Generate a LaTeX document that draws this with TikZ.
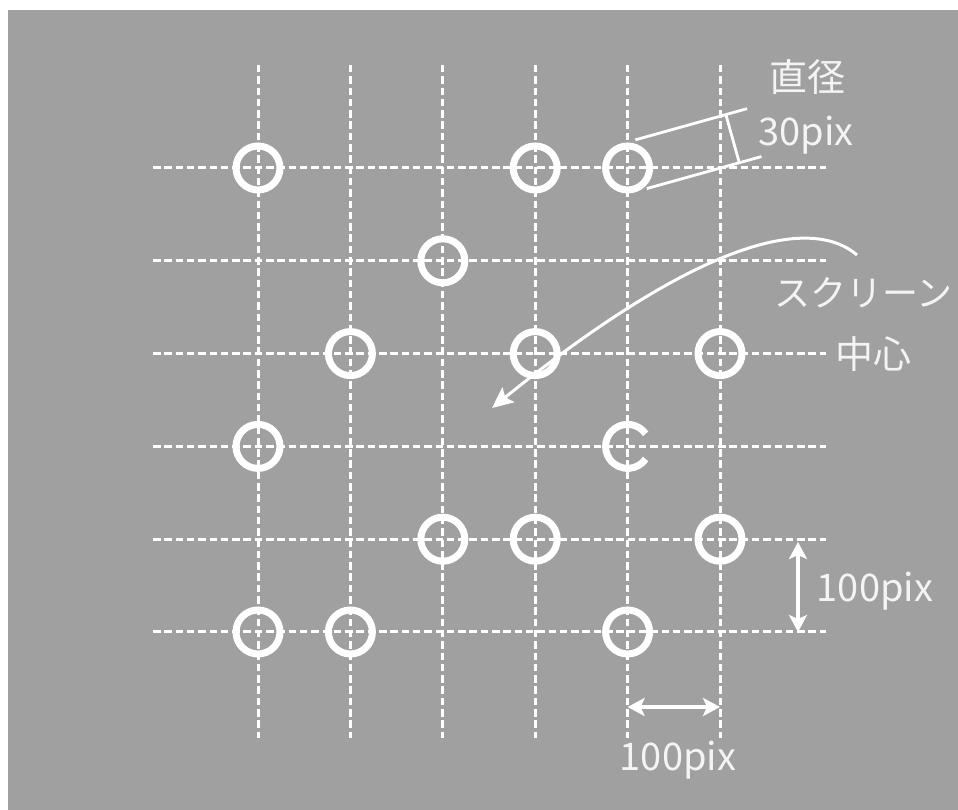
\documentclass[tikz,border=0pt]{standalone}
\usepackage{fontspec}
\setmainfont{Noto Sans CJK JP}
\usepackage{xcolor}
\definecolor{cBack}{HTML}{A0A0A0}
\definecolor{cText}{HTML}{F4F4F4}
\usetikzlibrary{arrows.meta, calc}
\tikzset{
  gline/.style = {draw=white, line width=3pt, dash pattern=on 7.5pt off 3.8pt},
  ring/.style  = {circle, draw=white, line width=7pt, minimum size=44pt,
                  inner sep=0pt},
  tline/.style = {draw=white, line width=2.8pt},
  darr/.style  = {<->, >={Stealth[length=17pt, width=18pt, inset=4pt]},
                  draw=white, line width=3.5pt},
  carr/.style  = {->, >={Stealth[length=21pt, width=19pt, inset=4pt]},
                  draw=white, line width=3pt},
  lbl/.style   = {text=cText, font=\fontsize{38}{42}\selectfont, inner sep=0pt},
}

\begin{document}
\begin{tikzpicture}[x=1pt, y=1pt]

  \useasboundingbox (0,0) rectangle (958,810);
  \fill[white] (0,0) rectangle (958,810);
  \fill[cBack] (8,0) rectangle (958,800);

  % grid points
  \foreach \c in {1,...,6}
    \foreach \r in {1,...,6}
      \coordinate (g-\c-\r) at ({258+92.4*(\c-1)}, {642-92.8*(\r-1)});

  % dashed grid
  \foreach \c in {1,...,6} {
    \coordinate (vt-\c) at ({258+92.4*(\c-1)}, 745);
    \coordinate (vb-\c) at ({258+92.4*(\c-1)}, 72);
    \draw[gline] (vt-\c) -- (vb-\c);
  }
  \foreach \r in {1,...,6} {
    \coordinate (hl-\r) at (153, {642-92.8*(\r-1)});
    \coordinate (hr-\r) at (826, {642-92.8*(\r-1)});
    \draw[gline] (hl-\r) -- (hr-\r);
  }

  % targets
  \foreach \c/\r in {1/1, 4/1, 5/1, 3/2, 2/3, 4/3, 6/3, 1/4,
                     3/5, 4/5, 6/5, 1/6, 2/6, 5/6}
    \node[ring] (ring-\c-\r) at (g-\c-\r) {};
  \draw[white, line width=7pt] ($(g-5-4)+(35:22)$)
        arc[start angle=35, end angle=325, radius=22];

  % diameter
  \begin{scope}[shift={(g-5-1)}, rotate=15.6]
    \coordinate (ta1) at (15,25);   \coordinate (ta2) at (131,25);
    \coordinate (tb1) at (13,-25);  \coordinate (tb2) at (132,-25);
    \coordinate (tc1) at (109,25);  \coordinate (tc2) at (109,-25);
  \end{scope}
  \draw[tline] (ta1) -- (ta2);
  \draw[tline] (tb1) -- (tb2);
  \draw[tline] (tc1) -- (tc2);

  % screen centre pointer
  \coordinate (cs) at (857,555);
  \coordinate (ce) at (492,402);
  \draw[carr] (cs) .. controls (810,595) and (700,570) .. (ce);

  % spacing
  \coordinate (dv1) at (798,268);
  \coordinate (dv2) at (798,178);
  \coordinate (dh1) at (627.6,103);
  \coordinate (dh2) at (720,103);
  \draw[darr] (dv1) -- (dv2);
  \draw[darr] (dh1) -- (dh2);

  % labels
  \node[lbl]              (dia)  at (807,733) {直径};
  \node[lbl, anchor=base] (dval) at (806,664) {30pix};
  \node[lbl, anchor=west, font=\fontsize{36}{40}\selectfont]
                          (scr)  at (774,517) {スクリーン};
  \node[lbl]              (ctr)  at (873,456) {中心};
  \node[lbl, anchor=base] (vlab) at (875,208) {100pix};
  \node[lbl, anchor=base] (hlab) at (678,39)  {100pix};

\end{tikzpicture}
\end{document}
